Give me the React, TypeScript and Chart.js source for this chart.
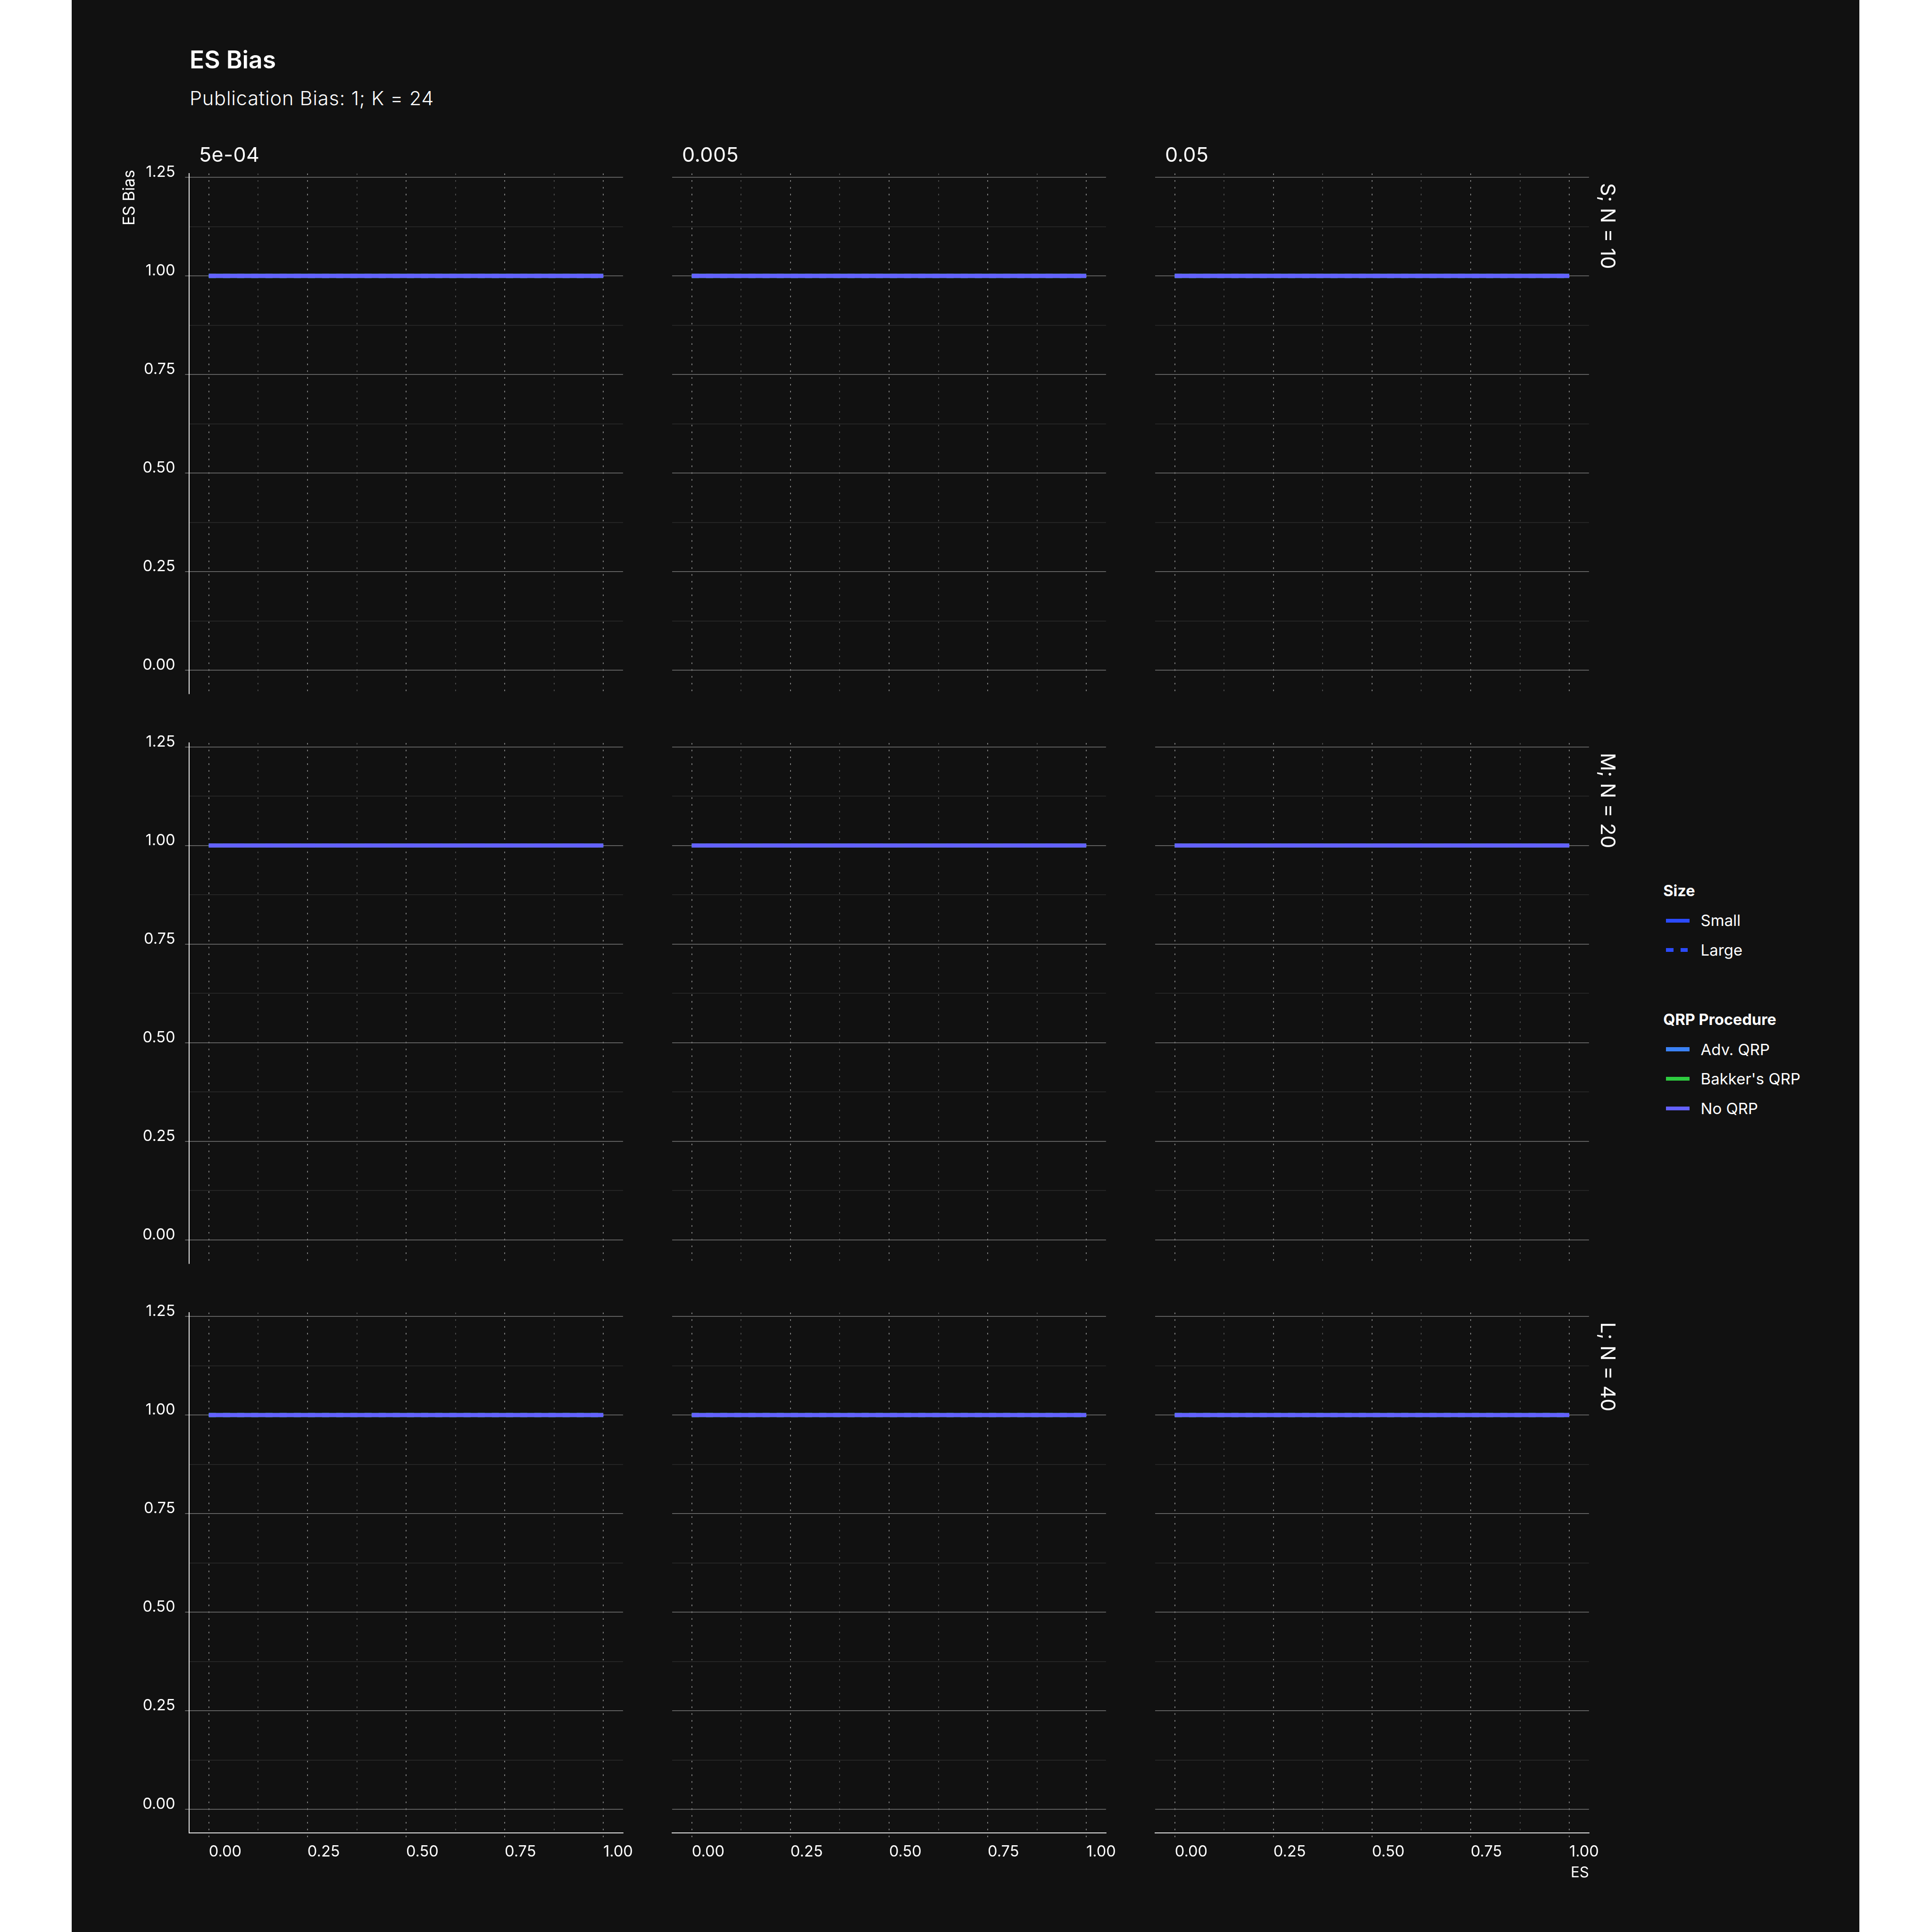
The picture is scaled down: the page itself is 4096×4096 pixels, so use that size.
import React, { useEffect, useRef } from 'react';
import { Chart, registerables } from 'chart.js';

Chart.register(...registerables);

// ---------- data ----------
const pThresholds = ['5e-04', '0.005', '0.05'];
const sampleSizes = ['S; N = 10', 'M; N = 20', 'L; N = 40'];
const esLevels = [0, 0.2, 0.5, 0.8, 1];
const advQrpSmall = [1, 1, 1, 1, 1];
const advQrpLarge = [1, 1, 1, 1, 1];
const bakkerQrpSmall = [1, 1, 1, 1, 1];
const bakkerQrpLarge = [1, 1, 1, 1, 1];
const noQrpSmall = [1, 1, 1, 1, 1];
const noQrpLarge = [1, 1, 1, 1, 1];
const yMajorTicks = [0, 0.25, 0.5, 0.75, 1, 1.25];
const yMinorTicks = [0.125, 0.375, 0.625, 0.875, 1.125];
const xMajorTicks = [0, 0.25, 0.5, 0.75, 1];
const xMinorTicks = [0.125, 0.375, 0.625, 0.875];
const yLimits = [-0.06, 1.26];
const xLimits = [-0.05, 1.05];
const sizeLegendItems = ['Small', 'Large'];
const qrpLegendItems = ['Adv. QRP', "Bakker's QRP", 'No QRP'];

// ---------- styles ----------
const S = 4096 / 5039;
const BG = '#111111';
const ADV = '#3b82f6';
const BAKKER = '#2ecc40';
const NOQRP = '#6461ff';
const SIZE_BLUE = '#2b4bff';
const qrpColors = [ADV, BAKKER, NOQRP];
const FONT = 'Inter, "Noto Sans", sans-serif';
const TICK_SIZE = 32.5;

const PANEL_LEFT0 = 493.3 * S;
const PANEL_PITCH_X = 1259.7 * S;
const PANEL_W = 1131.7 * S;
const PANEL_TOP0 = 452.3 * S;
const PANEL_PITCH_Y = 1485.5 * S;
const PANEL_H = 1357.3 * S;

const isMajor = (v: number) => Math.abs(v * 4 - Math.round(v * 4)) < 1e-9;

function panelGeom(r: number, c: number) {
  const pl = PANEL_LEFT0 + c * PANEL_PITCH_X;
  const pt = PANEL_TOP0 + r * PANEL_PITCH_Y;
  const cl = Math.floor(pl) - 130;
  const ct = Math.floor(pt) - 60;
  const L = pl - cl;
  const T = pt - ct;
  const cw = Math.ceil(L + PANEL_W + 80);
  const ch = Math.ceil(T + PANEL_H + 100);
  const R = cw - L - PANEL_W;
  const B = ch - T - PANEL_H;
  return { pl, pt, cl, ct, cw, ch, L, T, R, B };
}

const toXY = (vals: number[]) => esLevels.map((x, i) => ({ x, y: vals[i] }));

function Panel({ row, col }: { row: number; col: number }) {
  const ref = useRef<HTMLCanvasElement | null>(null);
  const g = panelGeom(row, col);
  useEffect(() => {
    const isLeft = col === 0;
    const isBottom = row === 2;
    const base = { borderWidth: 8.7, pointRadius: 0, tension: 0, fill: false };
    const datasets: any[] = [
      { label: 'No QRP / Small', data: toXY(noQrpSmall), borderColor: NOQRP, order: 0 },
      { label: 'No QRP / Large', data: toXY(noQrpLarge), borderColor: NOQRP, borderDash: [15, 15], order: 1 },
      { label: "Bakker's QRP / Small", data: toXY(bakkerQrpSmall), borderColor: BAKKER, order: 2 },
      { label: "Bakker's QRP / Large", data: toXY(bakkerQrpLarge), borderColor: BAKKER, borderDash: [15, 15], order: 3 },
      { label: 'Adv. QRP / Small', data: toXY(advQrpSmall), borderColor: ADV, order: 4 },
      { label: 'Adv. QRP / Large', data: toXY(advQrpLarge), borderColor: ADV, borderDash: [15, 15], order: 5 },
    ].map((d) => ({ ...base, ...d }));

    const chart = new Chart(ref.current as HTMLCanvasElement, {
      type: 'line',
      data: { datasets },
      options: {
        animation: false,
        responsive: false,
        devicePixelRatio: 1,
        events: [],
        layout: { padding: { left: 0, top: g.T, right: g.R, bottom: 0 } },
        plugins: { legend: { display: false }, tooltip: { enabled: false }, title: { display: false } },
        scales: {
          x: {
            type: 'linear',
            min: xLimits[0],
            max: xLimits[1],
            bounds: 'data',
            afterBuildTicks: (sc: any) => {
              sc.ticks = [...xMajorTicks, ...xMinorTicks].sort((a, b) => a - b).map((v) => ({ value: v }));
            },
            afterFit: (sc: any) => {
              sc.height = g.B;
            },
            ticks: {
              display: isBottom,
              autoSkip: false,
              maxRotation: 0,
              minRotation: 0,
              align: 'start',
              padding: 12,
              color: '#ffffff',
              font: { family: FONT, size: TICK_SIZE },
              callback: (v: any) => (isMajor(Number(v)) ? Number(v).toFixed(2) : ''),
            },
            grid: {
              color: (ctx: any) => (ctx.tick && isMajor(ctx.tick.value) ? '#8a8a8a' : '#505050'),
              lineWidth: 1.8,
              drawTicks: isBottom,
              tickLength: 9,
              tickColor: (ctx: any) => (ctx.tick && isMajor(ctx.tick.value) ? '#8a8a8a' : 'rgba(0,0,0,0)'),
              tickWidth: 1.8,
              tickBorderDash: [0, 5, 4, 100],
            },
            border: { display: isBottom, color: '#ffffff', width: 1.8, dash: [3.3, 11.1] },
          },
          y: {
            type: 'linear',
            min: yLimits[0],
            max: yLimits[1],
            bounds: 'data',
            afterBuildTicks: (sc: any) => {
              sc.ticks = [...yMajorTicks, ...yMinorTicks].sort((a, b) => a - b).map((v) => ({ value: v }));
            },
            afterFit: (sc: any) => {
              sc.width = g.L;
            },
            ticks: {
              display: isLeft,
              autoSkip: false,
              padding: 21,
              labelOffset: -10.4,
              color: '#ffffff',
              font: { family: FONT, size: TICK_SIZE },
              callback: (v: any) => (isMajor(Number(v)) ? Number(v).toFixed(2) : ''),
            },
            grid: {
              color: (ctx: any) => (ctx.tick && isMajor(ctx.tick.value) ? '#767676' : '#2b2b2b'),
              lineWidth: 1.6,
              drawTicks: isLeft,
              tickLength: 8.6,
              tickColor: (ctx: any) => (ctx.tick && isMajor(ctx.tick.value) ? '#767676' : 'rgba(0,0,0,0)'),
              tickWidth: 1.6,
            },
            border: { display: isLeft, color: '#ffffff', width: 1.8 },
          },
        },
      } as any,
    });
    return () => chart.destroy();
  }, []);
  return (
    <canvas
      ref={ref}
      width={g.cw}
      height={g.ch}
      style={{ position: 'absolute', left: g.cl, top: g.ct, width: g.cw, height: g.ch }}
    />
  );
}

function Txt({
  x,
  baseline,
  size,
  weight = 400,
  spacing = 0,
  children,
}: {
  x: number;
  baseline: number;
  size: number;
  weight?: number;
  spacing?: number;
  children: React.ReactNode;
}) {
  return (
    <div
      style={{
        position: 'absolute',
        left: x,
        top: baseline - 0.8633 * size,
        fontFamily: FONT,
        fontSize: size,
        fontWeight: weight,
        letterSpacing: spacing,
        lineHeight: 1,
        color: '#ffffff',
        whiteSpace: 'nowrap',
      }}
    >
      {children}
    </div>
  );
}

function Swatch({ x, cy, w, color }: { x: number; cy: number; w: number; color: string }) {
  const h = 8.1;
  return <div style={{ position: 'absolute', left: x, top: cy - h / 2, width: w, height: h, background: color }} />;
}

export default function App() {
  const panels: React.ReactNode[] = [];
  for (let r = 0; r < 3; r++) for (let c = 0; c < 3; c++) panels.push(<Panel key={`${r}-${c}`} row={r} col={c} />);

  const stripSize = 43;
  const legendX = 4338 * S;
  const swX = 4345 * S;
  const swW = 61.7 * S;
  const legTextX = 4435.7 * S;
  const rowPitch = 77 * S;

  return (
    <div style={{ position: 'absolute', left: 0, top: 0, width: 4096, height: 4096, overflow: 'hidden', background: '#ffffff' }}>
      <div style={{ position: 'absolute', left: 186.4 * S, top: 0, width: (4849.3 - 186.4) * S, height: 4096, background: BG }} />
      {panels}
      <Txt x={402} baseline={179 * S} size={51.5} weight={600}>ES Bias</Txt>
      <Txt x={402} baseline={275 * S} size={41.5} weight={300} spacing={0.8}>Publication Bias: 1; K = 24</Txt>
      {pThresholds.map((p, c) => (
        <Txt key={p} x={PANEL_LEFT0 + c * PANEL_PITCH_X + 21} baseline={422 * S} size={43} spacing={0.5}>
          {p}
        </Txt>
      ))}
      {sampleSizes.map((lab, r) => (
        <div
          key={lab}
          style={{
            position: 'absolute',
            left: 4214.3 * S + 0.136 * stripSize,
            top: PANEL_TOP0 + r * PANEL_PITCH_Y + 20.5,
            transform: 'rotate(90deg)',
            transformOrigin: '0 0',
            fontFamily: FONT,
            fontSize: stripSize,
            lineHeight: 1,
            color: '#ffffff',
            whiteSpace: 'nowrap',
          }}
        >
          {lab}
        </div>
      ))}
      <div
        style={{
          position: 'absolute',
          left: 320.7 * S - 0.136 * 33.6,
          top: 588 * S,
          transform: 'rotate(-90deg)',
          transformOrigin: '0 0',
          fontFamily: FONT,
          fontSize: 33.6,
          lineHeight: 1,
          color: '#ffffff',
          whiteSpace: 'nowrap',
        }}
      >
        ES Bias
      </div>
      <Txt x={4096.7 * S} baseline={4897 * S} size={31.3}>ES</Txt>

      {/* legend */}
      <Txt x={legendX} baseline={2339 * S} size={32.5} weight={700}>Size</Txt>
      {sizeLegendItems.map((lab, i) => (
        <React.Fragment key={lab}>
          {i === 0 ? (
            <Swatch x={swX} cy={2401 * S} w={swW} color={SIZE_BLUE} />
          ) : (
            <>
              <Swatch x={swX} cy={(2401 + 77) * S} w={19.3 * S} color={SIZE_BLUE} />
              <Swatch x={4383.3 * S} cy={(2401 + 77) * S} w={18.7 * S} color={SIZE_BLUE} />
            </>
          )}
          <Txt x={legTextX} baseline={2416 * S + i * rowPitch} size={33}>{lab}</Txt>
        </React.Fragment>
      ))}
      <Txt x={legendX} baseline={2674 * S} size={32.5} weight={700}>QRP Procedure</Txt>
      {qrpLegendItems.map((lab, i) => (
        <React.Fragment key={lab}>
          <Swatch x={swX} cy={2736.6 * S + i * rowPitch} w={swW} color={qrpColors[i]} />
          <Txt x={legTextX} baseline={2752 * S + i * rowPitch} size={33}>{lab}</Txt>
        </React.Fragment>
      ))}
    </div>
  );
}
